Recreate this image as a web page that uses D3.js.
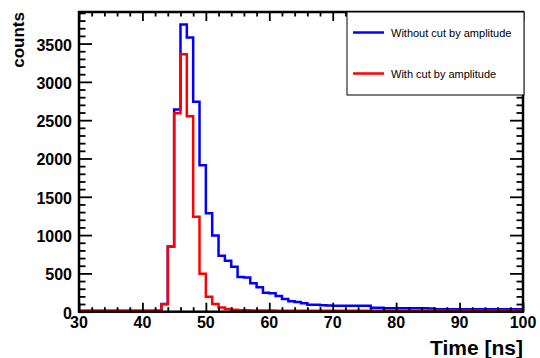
<!DOCTYPE html>
<html>
<head>
<meta charset="utf-8">
<script src="https://cdn.jsdelivr.net/npm/d3@7"></script>
<style>
  body { margin: 0; background: #fff; }
  svg { display: block; font-family: "Liberation Sans", Arial, Helvetica, sans-serif; }
</style>
</head>
<body>
<div id="chart"></div>
<script>
// histogram bins: 1 ns wide, lower edges 30 .. 99
var binEdges = d3.range(30, 101, 1);

// Without cut by amplitude (blue)
var countsNoCut = [
  12, 12, 12, 12, 12, 12, 12, 12, 12, 12,   // 30-39
  12, 12, 14, 100, 850, 2640, 3750, 3580, 2740, 1910, // 40-49
  1285, 995, 730, 665, 588, 452, 448, 370, 318, 248, // 50-59
  240, 205, 165, 135, 125, 110, 92, 90, 83, 80, // 60-69
  78, 78, 79, 77, 78, 78, 52, 52, 44, 44,   // 70-79
  44, 44, 44, 44, 44, 42, 31, 31, 31, 31,   // 80-89
  31, 31, 31, 31, 31, 31, 31, 31, 31, 31    // 90-99
];

// With cut by amplitude (red)
var countsCut = [
  10, 10, 10, 10, 10, 10, 10, 10, 10, 10,   // 30-39
  10, 10, 12, 97, 849, 2590, 3360, 2550, 1240, 495, // 40-49
  196, 100, 55, 35, 25, 20, 18, 15, 15, 15, // 50-59
  15, 13, 13, 12, 12, 12, 12, 12, 12, 12,   // 60-69
  12, 12, 12, 12, 12, 12, 12, 12, 12, 12,   // 70-79
  12, 12, 12, 12, 12, 12, 12, 12, 12, 12,   // 80-89
  12, 12, 12, 12, 12, 12, 12, 12, 12, 12    // 90-99
];

var xTicks = [30, 40, 50, 60, 70, 80, 90, 100];
var yTicks = [0, 500, 1000, 1500, 2000, 2500, 3000, 3500];
var legendLabels = ["Without cut by amplitude", "With cut by amplitude"];
var seriesColors = ["#0000ff", "#ff0000"];

var svgWidth = 540;
var svgHeight = 358;

var frame = { left: 79, right: 523, top: 12, bottom: 311.7 };

var svg = d3.select("#chart")
  .append("svg")
  .attr("width", svgWidth)
  .attr("height", svgHeight);

var x = d3.scaleLinear().domain([30, 100]).range([frame.left, frame.right]);
var y = d3.scaleLinear().domain([0, 3912]).range([frame.bottom, frame.top]);

// histograms as step lines
function stepPoints(values) {
  var pts = values.map(function(v, i) { return [binEdges[i], v]; });
  pts.push([binEdges[values.length], values[values.length - 1]]);
  return pts;
}

var line = d3.line()
  .x(function(d) { return x(d[0]); })
  .y(function(d) { return y(d[1]); })
  .curve(d3.curveStepAfter);

[countsNoCut, countsCut].forEach(function(vals, i) {
  svg.append("path")
    .attr("d", line(stepPoints(vals)))
    .attr("fill", "none")
    .attr("stroke", seriesColors[i])
    .attr("stroke-width", 2.5);
});

// axes with ticks pointing inward, ROOT style
var xMinor = d3.range(30, 101, 2).filter(function(v) { return v % 10 !== 0; });
var yMinor = d3.range(0, 3912, 100).filter(function(v) { return v % 500 !== 0; });

var bottomMajor = d3.axisTop(x).tickValues(xTicks).tickSize(9).tickFormat("");
var bottomMinor = d3.axisTop(x).tickValues(xMinor).tickSize(4.5).tickFormat("");
var topMajor = d3.axisBottom(x).tickValues(xTicks).tickSize(9).tickFormat("");
var topMinor = d3.axisBottom(x).tickValues(xMinor).tickSize(4.5).tickFormat("");
var leftMajor = d3.axisRight(y).tickValues(yTicks).tickSize(13).tickFormat("");
var leftMinor = d3.axisRight(y).tickValues(yMinor).tickSize(6.5).tickFormat("");
var rightMajor = d3.axisLeft(y).tickValues(yTicks).tickSize(13).tickFormat("");
var rightMinor = d3.axisLeft(y).tickValues(yMinor).tickSize(6.5).tickFormat("");

function addAxis(axis, tx, ty) {
  var g = svg.append("g")
    .attr("transform", "translate(" + tx + "," + ty + ")")
    .call(axis);
  g.select(".domain").remove();
  g.selectAll(".tick line").attr("stroke", "#000").attr("stroke-width", 1.8);
}

addAxis(bottomMajor, 0, frame.bottom);
addAxis(bottomMinor, 0, frame.bottom);
addAxis(topMajor, 0, frame.top);
addAxis(topMinor, 0, frame.top);
addAxis(leftMajor, frame.left, 0);
addAxis(leftMinor, frame.left, 0);
addAxis(rightMajor, frame.right, 0);
addAxis(rightMinor, frame.right, 0);

// frame
svg.append("rect")
  .attr("x", frame.left)
  .attr("y", frame.top)
  .attr("width", frame.right - frame.left)
  .attr("height", frame.bottom - frame.top)
  .attr("fill", "none")
  .attr("stroke", "#000")
  .attr("stroke-width", 2.5);

// tick labels
svg.append("g").selectAll("text")
  .data(xTicks)
  .enter()
  .append("text")
  .attr("x", function(d) { return x(d); })
  .attr("y", 328)
  .attr("text-anchor", "middle")
  .style("font-size", "16px")
  .style("font-weight", "bold")
  .text(function(d) { return d; });

svg.append("g").selectAll("text")
  .data(yTicks)
  .enter()
  .append("text")
  .attr("x", 72)
  .attr("y", function(d) { return y(d) + 7; })
  .attr("text-anchor", "end")
  .style("font-size", "16px")
  .style("font-weight", "bold")
  .text(function(d) { return d; });

// axis titles
svg.append("text")
  .attr("transform", "translate(24," + frame.top + ") rotate(-90)")
  .attr("text-anchor", "end")
  .style("font-size", "17px")
  .style("font-weight", "bold")
  .text("counts");

svg.append("text")
  .attr("x", frame.right)
  .attr("y", 355)
  .attr("text-anchor", "end")
  .style("font-size", "21px")
  .style("font-weight", "bold")
  .text("Time [ns]");

// legend
var legend = svg.append("g");
legend.append("rect")
  .attr("x", 347)
  .attr("y", 12)
  .attr("width", 177)
  .attr("height", 83)
  .attr("fill", "#fff")
  .attr("stroke", "#000")
  .attr("stroke-width", 1);

legendLabels.forEach(function(label, i) {
  var ly = 32.5 + i * 41;
  legend.append("line")
    .attr("x1", 353).attr("x2", 384)
    .attr("y1", ly).attr("y2", ly)
    .attr("stroke", seriesColors[i])
    .attr("stroke-width", 2.5);
  legend.append("text")
    .attr("x", 391)
    .attr("y", ly + 4)
    .style("font-size", "11px")
    .text(label);
});
</script>
</body>
</html>
